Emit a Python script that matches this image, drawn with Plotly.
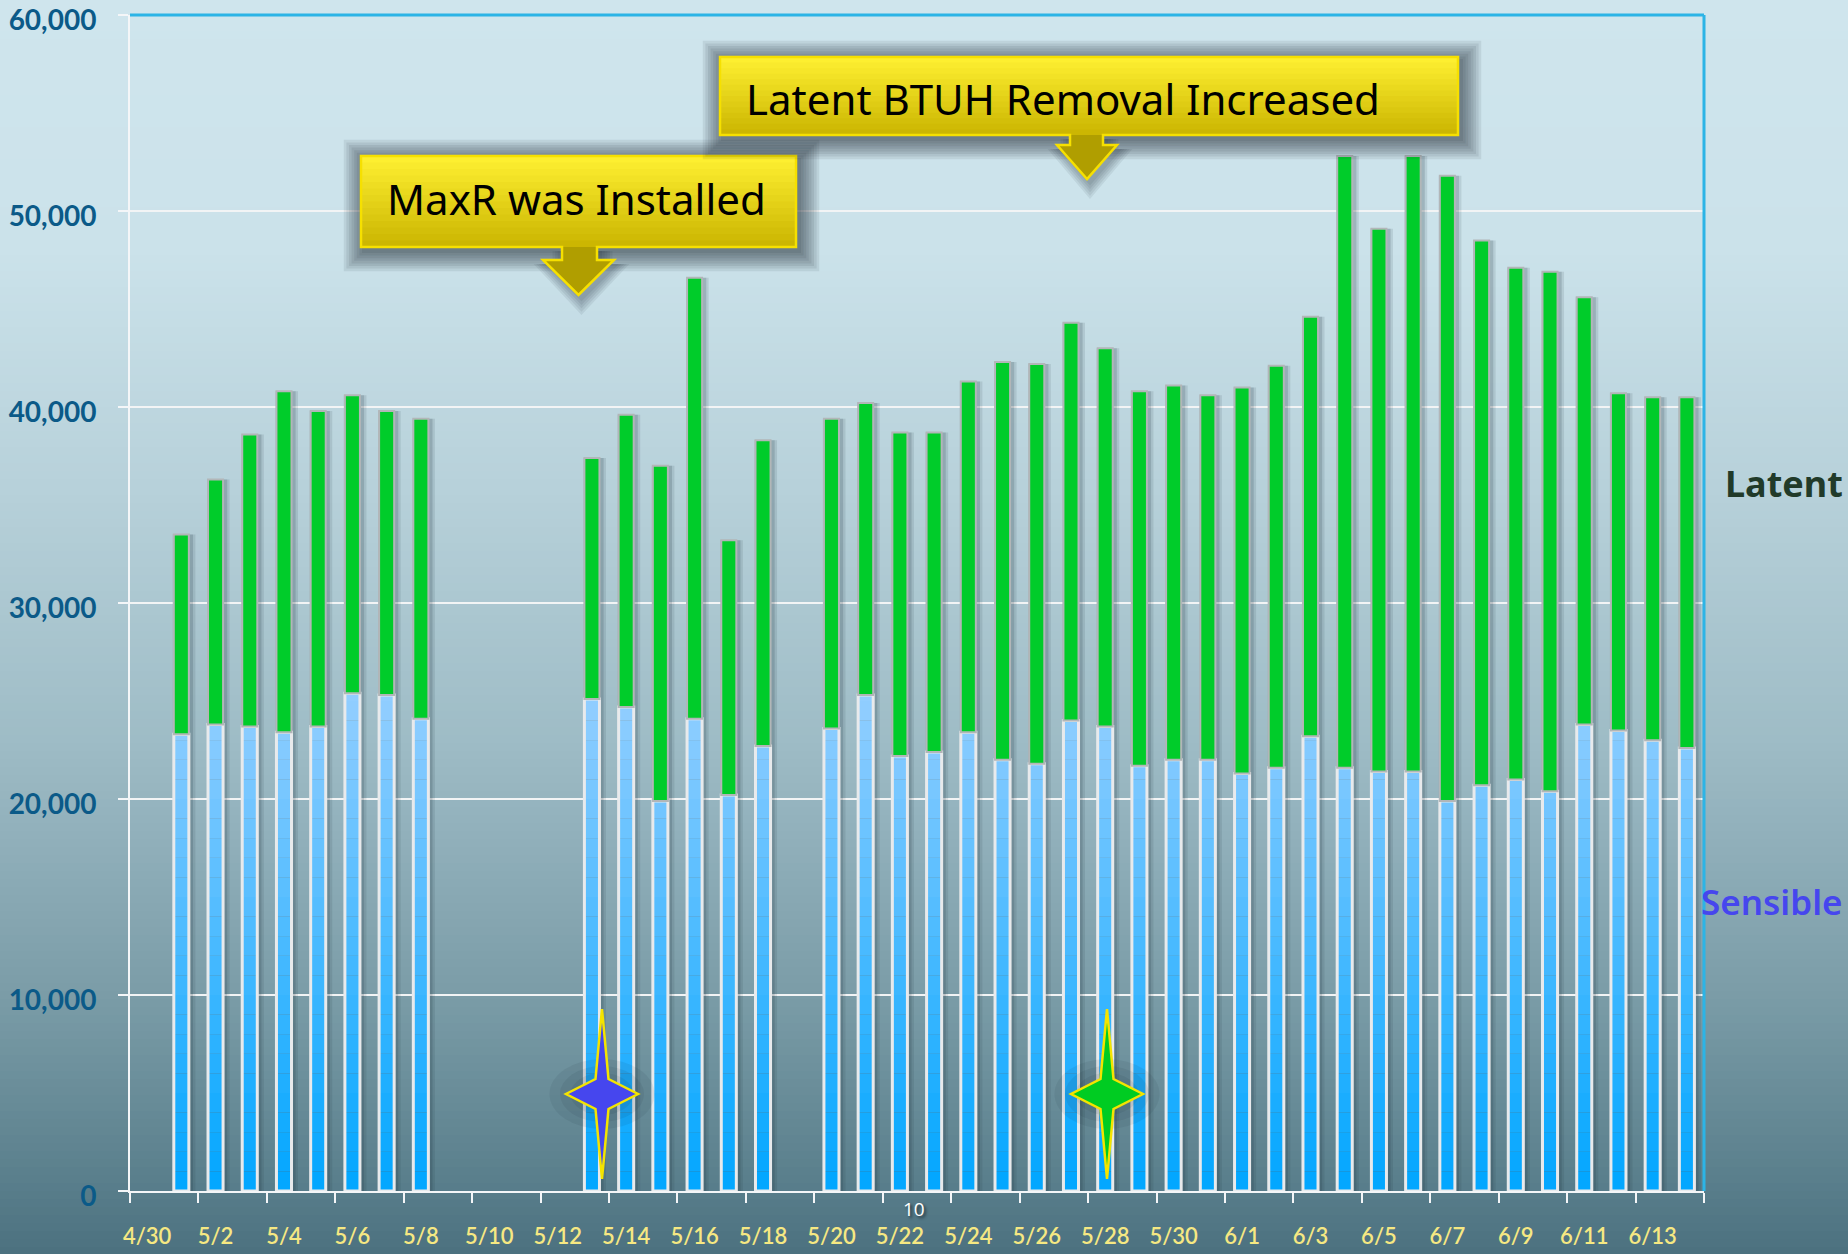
import plotly.graph_objects as go

# ---------------- data ----------------
dates = ["4/30", "5/1", "5/2", "5/3", "5/4", "5/5", "5/6", "5/7", "5/8", "5/9",
         "5/10", "5/11", "5/12", "5/13", "5/14", "5/15", "5/16", "5/17", "5/18", "5/19",
         "5/20", "5/21", "5/22", "5/23", "5/24", "5/25", "5/26", "5/27", "5/28", "5/29",
         "5/30", "5/31", "6/1", "6/2", "6/3", "6/4", "6/5", "6/6", "6/7", "6/8",
         "6/9", "6/10", "6/11", "6/12", "6/13", "6/14"]

sensible = [None, 23300, 23800, 23700, 23400, 23700, 25400, 25300, 24100, None,
            None, None, None, 25100, 24700, 19900, 24100, 20200, 22700, None,
            23600, 25300, 22200, 22400, 23400, 22000, 21800, 24000, 23700, 21700,
            22000, 22000, 21300, 21600, 23200, 21600, 21400, 21400, 19900, 20700,
            21000, 20400, 23800, 23500, 23000, 22600]

latent = [None, 10200, 12500, 14900, 17400, 16100, 15200, 14500, 15300, None,
          None, None, None, 12300, 14900, 17100, 22500, 13000, 15600, None,
          15800, 14900, 16500, 16300, 17900, 20300, 20400, 20300, 19300, 19100,
          19100, 18600, 19700, 20500, 21400, 31200, 27700, 31400, 31900, 27800,
          26100, 26500, 21800, 17200, 17500, 17900]

y_ticks = [0, 10000, 20000, 30000, 40000, 50000, 60000]
callout_1 = "MaxR was Installed"
callout_2 = "Latent BTUH Removal Increased"
legend_latent = "Latent"
legend_sensible = "Sensible"
page_no = "10"

# ---------------- geometry ----------------
W, H = 1848, 1254
ML, MR, MT, MB = 130, 144, 15, 63
PW, PH = W - ML - MR, H - MT - MB
Y0 = H - MB


def px_x(px):
    return (px - ML) / PW


def px_y(py):
    return (Y0 - py) / PH


def lerp(c1, c2, t):
    return tuple(round(a + (b - a) * t) for a, b in zip(c1, c2))


def rgb(c, a=None):
    if a is None:
        return "rgb(%d,%d,%d)" % c
    return "rgba(%d,%d,%d,%.3f)" % (c[0], c[1], c[2], a)


x = list(range(len(dates)))
total = [None if s is None else s + l for s, l in zip(sensible, latent)]

fig = go.Figure()

BW = 0.44

# soft shadows
for w, off, a in [(0.66, -0.25, 0.11), (0.56, -0.22, 0.16)]:
    fig.add_trace(go.Bar(x=x, y=total, base=0, width=w, offset=off,
                         marker=dict(color="rgba(25,45,55,%.2f)" % a, line=dict(width=0)),
                         hoverinfo="skip", showlegend=False))

# sensible in bands to imitate the vertical gradient
step = 1000
c_low, c_high = (0, 166, 255), (146, 206, 255)
for k in range(26):
    ys = []
    for s in sensible:
        if s is None or s <= k * step:
            ys.append(None)
        else:
            ys.append(min(step, s - k * step))
    col = lerp(c_low, c_high, min(1.0, (k + 0.5) * step / 25000))
    fig.add_trace(go.Bar(x=x, y=ys, base=k * step, width=BW,
                         marker=dict(color=rgb(col), line=dict(width=0)),
                         hoverinfo="skip", showlegend=False))

# sensible outline
fig.add_trace(go.Bar(x=x, y=sensible, base=0, width=BW, name="Sensible",
                     marker=dict(color="rgba(0,0,0,0)", line=dict(color="#e8eaec", width=3)),
                     showlegend=False))

# latent
fig.add_trace(go.Bar(x=x, y=latent, base=sensible, width=BW, name="Latent",
                     marker=dict(color="#00cc2a", line=dict(color="#b2b6b8", width=2)),
                     showlegend=False))

shapes = []

# background gradient
stops = [(0, (207, 229, 237)), (250, (203, 226, 234)), (500, (182, 208, 217)),
         (750, (157, 187, 197)), (1000, (122, 156, 167)), (1180, (90, 127, 140)),
         (1254, (76, 113, 127))]


def bg_col(py):
    for (y1, c1), (y2, c2) in zip(stops[:-1], stops[1:]):
        if y1 <= py <= y2:
            return lerp(c1, c2, (py - y1) / (y2 - y1))
    return stops[-1][1]


strip = 8
for i in range(0, H, strip):
    shapes.append(dict(type="rect", xref="paper", yref="paper", layer="below",
                       x0=px_x(-2), x1=px_x(W + 2), y0=px_y(i + strip + 1), y1=px_y(i - 1),
                       fillcolor=rgb(bg_col(i + strip / 2)), line=dict(width=0)))

# plot frame top / right in cyan
shapes.append(dict(type="line", xref="paper", yref="paper", x0=0, x1=1, y0=1, y1=1,
                   line=dict(color="#2cb4e6", width=3)))
shapes.append(dict(type="line", xref="paper", yref="paper", x0=1, x1=1, y0=0, y1=1,
                   line=dict(color="#2cb4e6", width=3)))


def callout(left, top, right, bottom, stem_l, stem_r, head_l, head_r, head_top, tip):
    tipx = (head_l + head_r) / 2
    outline = [(left, top), (right, top), (right, bottom), (stem_r, bottom), (stem_r, head_top),
               (head_r, head_top), (tipx, tip), (head_l, head_top), (stem_l, head_top),
               (stem_l, bottom), (left, bottom)]

    def path_of(pts, dx=0.0, dy=0.0):
        return "M " + " L ".join("%.5f,%.5f" % (px_x(a + dx), px_y(b + dy)) for a, b in pts) + " Z"

    # glow shadow
    for g in range(8):
        e = 2 + g * 2.6
        shapes.append(dict(type="rect", xref="paper", yref="paper",
                           x0=px_x(left - e + 3), x1=px_x(right + e + 3),
                           y0=px_y(bottom + e + 4), y1=px_y(top - e + 4),
                           fillcolor="rgba(25,38,48,0.085)", line=dict(width=0)))
    for g in range(5):
        e = 2 + g * 2.6
        arrow = [(stem_l - e, bottom), (stem_r + e, bottom), (stem_r + e, head_top),
                 (head_r + e, head_top), (tipx, tip + e * 1.3), (head_l - e, head_top),
                 (stem_l - e, head_top)]
        shapes.append(dict(type="path", xref="paper", yref="paper", path=path_of(arrow, 3, 4),
                           fillcolor="rgba(25,38,48,0.08)", line=dict(width=0)))
    # arrow fill
    arrow = [(stem_l, bottom - 2), (stem_r, bottom - 2), (stem_r, head_top), (head_r, head_top),
             (tipx, tip), (head_l, head_top), (stem_l, head_top)]
    shapes.append(dict(type="path", xref="paper", yref="paper", path=path_of(arrow),
                       fillcolor="#b09e00", line=dict(width=0)))
    # box gradient fill
    n = 14
    ctop, cbot = (255, 241, 50), (202, 180, 0)
    hgt = bottom - top
    for i in range(n):
        y1 = top + hgt * i / n
        y2 = top + hgt * (i + 1) / n
        shapes.append(dict(type="rect", xref="paper", yref="paper",
                           x0=px_x(left), x1=px_x(right), y0=px_y(min(bottom, y2 + 0.8)), y1=px_y(y1),
                           fillcolor=rgb(lerp(ctop, cbot, (i + 0.5) / n)), line=dict(width=0)))
    shapes.append(dict(type="path", xref="paper", yref="paper", path=path_of(outline),
                       fillcolor="rgba(0,0,0,0)", line=dict(color="#f6e000", width=2.5)))


callout(361, 156, 796, 247, 562, 597, 543, 614, 260, 295)
callout(720, 57, 1458, 135, 1070, 1103, 1057, 1117, 145, 179)


def star(cx, cy, fill):
    hw, hh, wx, wy = 36, 85, 6.5, 15
    for g in range(4):
        r = 14 + g * 7
        shapes.append(dict(type="circle", xref="paper", yref="paper",
                           x0=px_x(cx - r * 1.5), x1=px_x(cx + r * 1.5), y0=px_y(cy + r), y1=px_y(cy - r),
                           fillcolor="rgba(15,30,40,0.07)", line=dict(width=0)))
    pts = [(cx, cy - hh), (cx + wx, cy - wy), (cx + hw, cy), (cx + wx, cy + wy), (cx, cy + hh),
           (cx - wx, cy + wy), (cx - hw, cy), (cx - wx, cy - wy)]
    path = "M " + " L ".join("%.5f,%.5f" % (px_x(a), px_y(b)) for a, b in pts) + " Z"
    shapes.append(dict(type="path", xref="paper", yref="paper", path=path,
                       fillcolor=fill, line=dict(color="#f4e400", width=2.5)))


star(602, 1094, "#4646ee")
star(1107, 1094, "#00cc22")

annotations = [
    dict(text=callout_1, xref="paper", yref="paper", x=px_x(576), y=px_y(199),
         showarrow=False, xanchor="center", yanchor="middle",
         font=dict(family="Noto Sans", size=42, color="#000000")),
    dict(text=callout_2, xref="paper", yref="paper", x=px_x(1063), y=px_y(99),
         showarrow=False, xanchor="center", yanchor="middle",
         font=dict(family="Noto Sans", size=42, color="#000000")),
    dict(text=legend_latent, xref="paper", yref="paper", x=px_x(1845), y=px_y(483),
         showarrow=False, xanchor="right", yanchor="middle",
         font=dict(family="Noto Sans", size=36, color="#213a29", weight=700)),
    dict(text=legend_sensible, xref="paper", yref="paper", x=px_x(1845), y=px_y(901),
         showarrow=False, xanchor="right", yanchor="middle",
         font=dict(family="Noto Sans", size=35, color="#4646ee", weight=600)),
    dict(text=page_no, xref="paper", yref="paper", x=px_x(914), y=px_y(1209),
         showarrow=False, xanchor="center", yanchor="middle",
         font=dict(family="Open Sans", size=19, color="#ffffff", shadow="2px 2px 3px #203038")),
]

fig.update_layout(
    width=W, height=H,
    margin=dict(l=ML, r=MR, t=MT, b=MB, pad=0, autoexpand=False),
    barmode="overlay",
    paper_bgcolor="#4c7180",
    plot_bgcolor="rgba(0,0,0,0)",
    shapes=shapes,
    annotations=annotations,
    showlegend=False,
    xaxis=dict(range=[-0.5, len(dates) - 0.5], tickmode="array", automargin=False,
               tickvals=x[::2], ticktext=dates[::2], ticks="",
               showgrid=False, zeroline=False, showline=True, linecolor="#f4f6f8", linewidth=2,
               tickfont=dict(family="Lato", size=22, color="#f6e882", weight=600),
               ticklabelstandoff=25, ticklabeloverflow="allow",
               minor=dict(tickmode="array", tickvals=[i - 0.5 for i in range(0, len(dates) + 1, 2)],
                          ticks="outside", ticklen=10, tickwidth=2, tickcolor="#f4f6f8",
                          showgrid=False)),
    yaxis=dict(range=[0, 60000], tickmode="array", tickvals=y_ticks, tickformat=",",
               automargin=False, ticklabeloverflow="allow", ticklabelshift=5,
               ticks="outside", ticklen=10, tickwidth=2, tickcolor="#f4f6f8",
               showgrid=True, gridcolor="#f2f4f5", gridwidth=2, zeroline=False,
               showline=True, linecolor="#f4f6f8", linewidth=2,
               tickfont=dict(family="Lato", size=28, color="#0b5a88", weight=700),
               ticklabelstandoff=16),
)

fig.write_html("out.html", config={"displayModeBar": False},
               post_script="document.body.style.margin='0px';")
